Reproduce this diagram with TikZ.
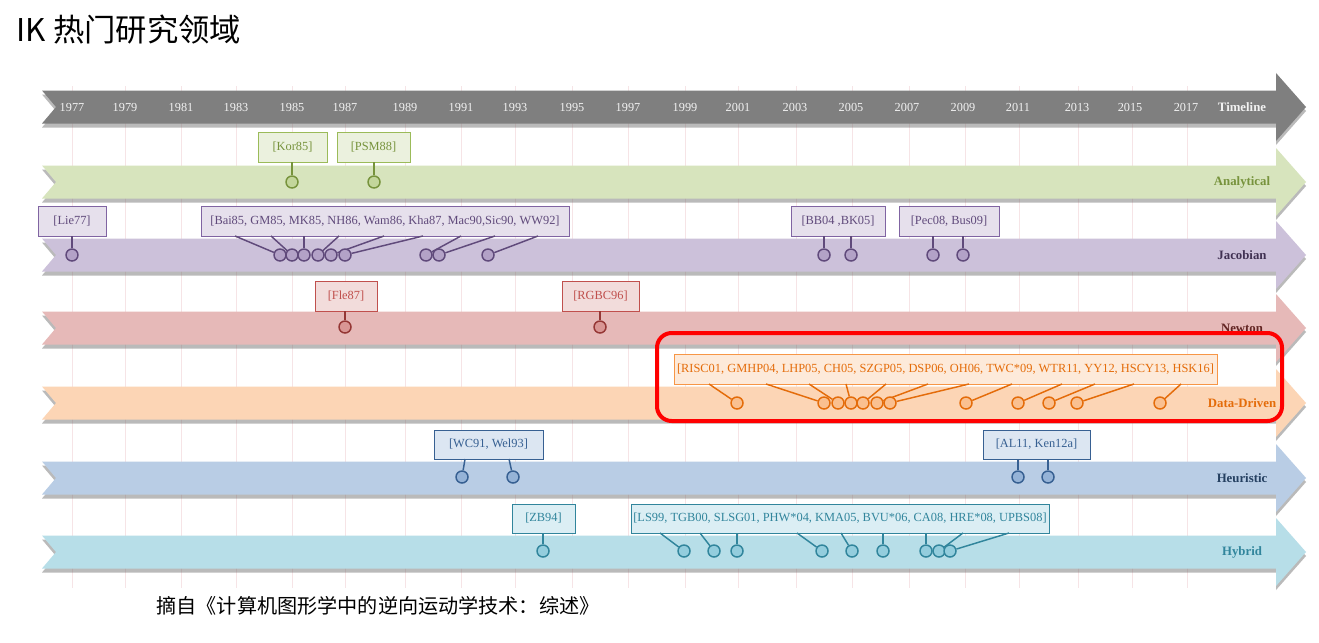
\documentclass[tikz,border=0pt]{standalone}
\usepackage{fontspec}
\setmainfont{Liberation Serif}
\newfontfamily\cjk{Noto Sans CJK SC}
\definecolor{tlband}{HTML}{7F7F7F}
\definecolor{tltext}{HTML}{F2F2F2}
\definecolor{anBand}{HTML}{D7E4BD}\definecolor{anFill}{HTML}{EBF1DE}\definecolor{anDraw}{HTML}{9BBB59}\definecolor{anText}{HTML}{77933C}\definecolor{anDot}{HTML}{C3D69B}
\definecolor{jaBand}{HTML}{CCC1DA}\definecolor{jaFill}{HTML}{E6E0EC}\definecolor{jaDraw}{HTML}{8064A2}\definecolor{jaText}{HTML}{604A7B}\definecolor{jaDot}{HTML}{B3A2C7}\definecolor{jaLab}{HTML}{403152}
\definecolor{neBand}{HTML}{E6B9B8}\definecolor{neFill}{HTML}{F2DCDB}\definecolor{neDraw}{HTML}{C0504D}\definecolor{neText}{HTML}{C0504D}\definecolor{neDot}{HTML}{D99694}\definecolor{neLine}{HTML}{953735}\definecolor{neLab}{HTML}{632523}
\definecolor{ddBand}{HTML}{FCD5B5}\definecolor{ddFill}{HTML}{FDEADA}\definecolor{ddDraw}{HTML}{F79646}\definecolor{ddText}{HTML}{E46C0A}\definecolor{ddDot}{HTML}{FAC090}
\definecolor{heBand}{HTML}{B9CDE5}\definecolor{heFill}{HTML}{DCE6F2}\definecolor{heDraw}{HTML}{376092}\definecolor{heText}{HTML}{376092}\definecolor{heDot}{HTML}{95B3D7}\definecolor{heLab}{HTML}{254061}
\definecolor{hyBand}{HTML}{B7DEE8}\definecolor{hyFill}{HTML}{DBEEF4}\definecolor{hyDraw}{HTML}{31859C}\definecolor{hyText}{HTML}{31859C}\definecolor{hyDot}{HTML}{93CDDD}
\definecolor{gridc}{HTML}{F6E4E6}
\definecolor{redc}{HTML}{FF0000}
\newcommand\ikband[2]{%
  \fill[#2] (42,{#1-16.5}) -- (1276,{#1-16.5}) -- (1276,{#1-34}) -- (1306,{#1}) -- (1276,{#1+34}) -- (1276,{#1+16.5}) -- (42,{#1+16.5}) -- (56,{#1}) -- cycle;}
\newcommand\rbox[7]{% style, name, x1, x2, y1, y2, text
  \node[#1, minimum width={(#4-#3)*0.75pt}, minimum height={(#6-#5)*0.75pt}] (#2) at ({(#3+#4)/2},{(#5+#6)/2}) {#7};}
\begin{document}
\begin{tikzpicture}[x=0.75pt,y=-0.75pt,
  refbox/.style={draw, line width=0.7pt, inner sep=0pt, font=\fontsize{9.3}{11}\selectfont},
  dot/.style={circle, draw, line width=1.1pt, minimum size=9pt, inner sep=0pt},
  conn/.style={line width=1.1pt},
  bandlab/.style={font=\bfseries\fontsize{9.6}{11}\selectfont},
  year/.style={text=tltext, font=\fontsize{9.2}{11}\selectfont},
  bshadow/.style={black!60, opacity=0.45, shift={(0,4)}},
  anbox/.style={refbox, draw=anDraw, fill=anFill, text=anText},
  andot/.style={dot, draw=anText, fill=anDot},
  anconn/.style={conn, draw=anText},
  jabox/.style={refbox, draw=jaDraw, fill=jaFill, text=jaText},
  jadot/.style={dot, draw=jaText, fill=jaDot},
  jaconn/.style={conn, draw=jaText},
  nebox/.style={refbox, draw=neDraw, fill=neFill, text=neText},
  nedot/.style={dot, draw=neLine, fill=neDot},
  neconn/.style={conn, draw=neLine},
  ddbox/.style={refbox, draw=ddDraw, fill=ddFill, text=ddText},
  dddot/.style={dot, draw=ddText, fill=ddDot},
  ddconn/.style={conn, draw=ddText},
  hebox/.style={refbox, draw=heDraw, fill=heFill, text=heText},
  hedot/.style={dot, draw=heDraw, fill=heDot},
  heconn/.style={conn, draw=heDraw},
  hybox/.style={refbox, draw=hyDraw, fill=hyFill, text=hyText},
  hydot/.style={dot, draw=hyDraw, fill=hyDot},
  hyconn/.style={conn, draw=hyDraw}]
\useasboundingbox (0,0) rectangle (1319,642);
\fill[white] (0,0) rectangle (1319,642);
% grid
\foreach \xx in {72,125,181,236,292,345,405,461,515,572,628,685,738,796,852,909,965,1019,1078,1132,1187}
  \draw[gridc, line width=0.6pt] (\xx,86) -- (\xx,588);
% title and caption
\node[anchor=west, font=\cjk\fontsize{23.5}{28}\selectfont] (title) at (12,30) {IK 热门研究领域};
\node[font=\cjk\fontsize{15.1}{18}\selectfont] (cap) at (378,606) {摘自《计算机图形学中的逆向运动学技术：综述》};
% bands
\foreach \yy/\cc in {107/tlband,182/anBand,255/jaBand,328/neBand,403/ddBand,478/heBand,552/hyBand}{
  \ikband{\yy}{bshadow}
  \ikband{\yy}{\cc}}
% timeline
\foreach \yr/\xx in {1977/72,1979/125,1981/181,1983/236,1985/292,1987/345,1989/405,1991/461,1993/515,1995/572,1997/628,1999/685,2001/738,2003/795,2005/851,2007/907,2009/963,2011/1018,2013/1077,2015/1130,2017/1186}
  \node[year] (y\yr) at (\xx,107) {\yr};
\node[bandlab, text=tltext] (ltl) at (1242,107) {Timeline};
\node[bandlab, text=anText] (lan) at (1242,182) {Analytical};
\node[bandlab, text=jaLab] (lja) at (1242,255) {Jacobian};
\node[bandlab, text=neLab] (lne) at (1242,328) {Newton};
\node[bandlab, text=ddText] (ldd) at (1242,403) {Data-Driven};
\node[bandlab, text=heLab] (lhe) at (1242,478) {Heuristic};
\node[bandlab, text=hyText] (lhy) at (1242,552) {Hybrid};
% Analytical
\rbox{anbox}{kor}{258}{327}{132}{162}{[Kor85]}
\rbox{anbox}{psm}{337}{410}{132}{162}{[PSM88]}
\node[andot] (a1) at (292,182) {};
\node[andot] (a2) at (374,182) {};
\draw[anconn] (kor.south -| a1) -- (a1);
\draw[anconn] (psm.south -| a2) -- (a2);
% Jacobian
\rbox{jabox}{lie}{38}{106}{206}{236}{[Lie77]}
\node[jadot] (j0) at (72,255) {};
\draw[jaconn] (lie.south -| j0) -- (j0);
\rbox{jabox}{jbig}{201}{569}{206}{236}{[Bai85, GM85, MK85, NH86, Wam86, Kha87, Mac90,Sic90, WW92]}
\foreach \i/\s/\c in {1/235/280,2/271/292,3/304/304,4/339/318,5/384/331,6/423/345,7/461/426,8/495/439,9/538/488}{
  \node[jadot] (jb\i) at (\c,255) {};
  \coordinate (jbs\i) at (\s,236);
  \draw[jaconn] (jbs\i) -- (jb\i);}
\rbox{jabox}{bb}{791}{885}{206}{236}{[BB04 ,BK05]}
\rbox{jabox}{pec}{899}{999}{206}{236}{[Pec08, Bus09]}
\node[jadot] (jc1) at (824,255) {};
\node[jadot] (jc2) at (851,255) {};
\node[jadot] (jd1) at (933,255) {};
\node[jadot] (jd2) at (963,255) {};
\draw[jaconn] (bb.south -| jc1) -- (jc1);
\draw[jaconn] (bb.south -| jc2) -- (jc2);
\draw[jaconn] (pec.south -| jd1) -- (jd1);
\draw[jaconn] (pec.south -| jd2) -- (jd2);
% Newton
\rbox{nebox}{fle}{315}{377}{281}{311}{[Fle87]}
\rbox{nebox}{rgbc}{562}{639}{281}{311}{[RGBC96]}
\node[nedot] (n1) at (345,327) {};
\node[nedot] (n2) at (600,327) {};
\draw[neconn] (fle.south -| n1) -- (n1);
\draw[neconn] (rgbc.south -| n2) -- (n2);
% Data-driven
\rbox{ddbox}{dd}{674}{1217}{354}{384}{[RISC01, GMHP04, LHP05, CH05, SZGP05, DSP06, OH06, TWC*09, WTR11, YY12, HSCY13, HSK16]}
\foreach \i/\s/\c in {1/709/737,2/766/824,3/809/838,4/846/851,5/886/863,6/928/877,7/969/890,8/1012/966,9/1062/1018,10/1095/1049,11/1134/1077,12/1181/1160}{
  \node[dddot] (d\i) at (\c,403) {};
  \coordinate (ds\i) at (\s,384);
  \draw[ddconn] (ds\i) -- (d\i);}
% Heuristic
\rbox{hebox}{wc}{434}{543}{430}{459}{[WC91, Wel93]}
\node[hedot] (h1) at (462,477) {};
\node[hedot] (h2) at (513,477) {};
\coordinate (hs1) at (465,459);
\coordinate (hs2) at (509,459);
\draw[heconn] (hs1) -- (h1);
\draw[heconn] (hs2) -- (h2);
\rbox{hebox}{al}{983}{1090}{430}{459}{[AL11, Ken12a]}
\node[hedot] (h3) at (1018,477) {};
\node[hedot] (h4) at (1048,477) {};
\draw[heconn] (al.south -| h3) -- (h3);
\draw[heconn] (al.south -| h4) -- (h4);
% Hybrid
\rbox{hybox}{zb}{512}{575}{504}{533}{[ZB94]}
\node[hydot] (y0) at (543,551) {};
\draw[hyconn] (zb.south -| y0) -- (y0);
\rbox{hybox}{ls}{631}{1049}{504}{533}{[LS99, TGB00, SLSG01, PHW*04, KMA05, BVU*06, CA08, HRE*08, UPBS08]}
\foreach \i/\s/\c in {1/660/684,2/700/714,3/737/737,4/797/822,5/841/852,6/883/883,7/926/926,8/963/939,9/1009/950}{
  \node[hydot] (yb\i) at (\c,551) {};
  \coordinate (ybs\i) at (\s,533);
  \draw[hyconn] (ybs\i) -- (yb\i);}
% highlight
\draw[redc, line width=3pt, rounded corners=11pt] (657,333) rectangle (1282,421);
\end{tikzpicture}
\end{document}
